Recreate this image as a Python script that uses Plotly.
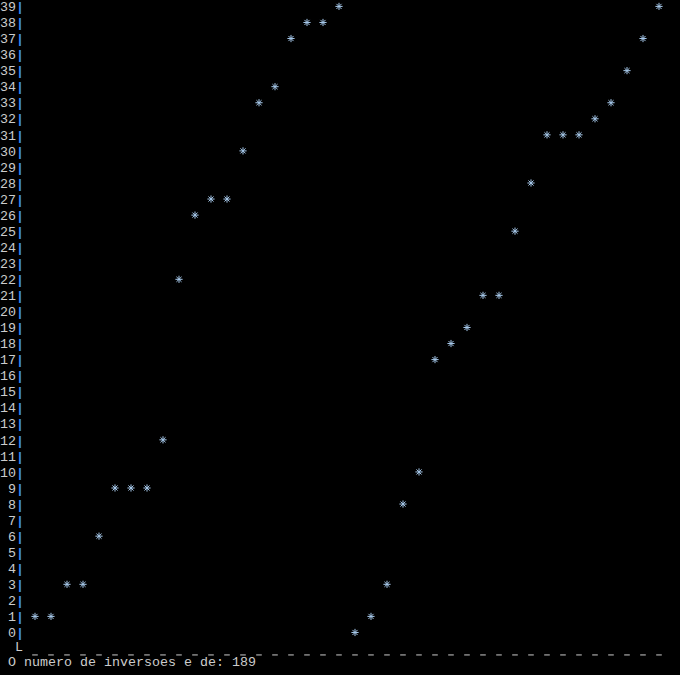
import plotly.graph_objects as go

# data (column index -> value)
positions = list(range(40))
values = [1, 1, 3, 3, 6, 9, 9, 9, 12, 22,
          26, 27, 27, 30, 33, 34, 37, 38, 38, 39,
          0, 1, 3, 8, 10, 17, 18, 19, 21, 21,
          25, 28, 31, 31, 31, 32, 33, 35, 37, 39]
row_labels = list(range(40))
inversions = 189
footer = f"O numero de inversoes e de: {inversions}"

FONT = "Liberation Mono, DejaVu Sans Mono, monospace"
FS = 13.34
GRAY = "#cccccc"
BLUE = "#3b8eea"
STAR = "#a6c8ea"

fig = go.Figure()

# bottom dashed baseline
fig.add_trace(go.Scatter(
    x=positions, y=[-1.40] * len(positions), mode="markers",
    marker=dict(symbol="line-ew-open", size=4, color=GRAY,
                line=dict(width=1, color=GRAY)),
    cliponaxis=False, hoverinfo="skip", showlegend=False))

# data points
fig.add_trace(go.Scatter(
    x=positions, y=values, mode="markers",
    marker=dict(symbol="asterisk-open", size=6, color=STAR,
                line=dict(width=1, color=STAR)),
    cliponaxis=False, showlegend=False))

fig.add_annotation(x=-0.01, y=-0.965, xref="paper", yref="y", text="L", showarrow=False,
                   xanchor="center", yanchor="middle",
                   font=dict(family=FONT, size=FS, color=GRAY))
fig.add_annotation(x=-0.0277, y=-1.90, xref="paper", yref="y", text=footer,
                   showarrow=False, xanchor="left", yanchor="middle", borderpad=0,
                   font=dict(family=FONT, size=FS, color=GRAY))

fig.update_layout(
    width=680, height=675,
    margin=dict(l=25, r=5, t=0, b=4),
    paper_bgcolor="#000000", plot_bgcolor="#000000",
    xaxis=dict(range=[-0.625, 40], visible=False, fixedrange=True),
    yaxis=dict(range=[-2.4, 39.4], showgrid=False, zeroline=False, showline=False,
               tickmode="array", tickvals=row_labels,
               ticktext=[f"{v}<span style='color:{BLUE};font-weight:bold'>|</span>"
                         for v in row_labels],
               ticks="", ticklen=0, fixedrange=True,
               tickfont=dict(family=FONT, size=FS, color=GRAY)),
)

fig.write_html("out.html")
